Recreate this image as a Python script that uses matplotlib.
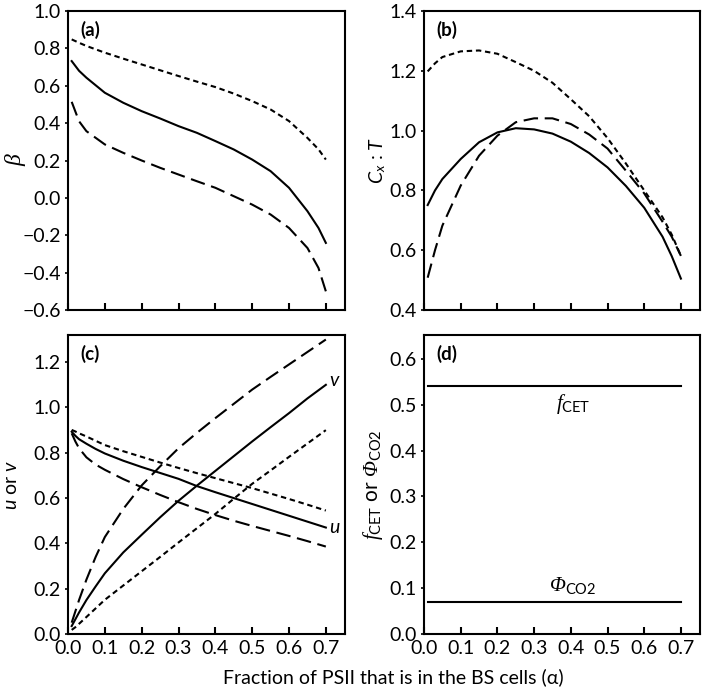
import matplotlib
matplotlib.use("Agg")
import matplotlib.pyplot as plt

plt.rcParams['font.family'] = ['Lato', 'DejaVu Sans']
plt.rcParams['mathtext.fontset'] = 'custom'
plt.rcParams['mathtext.rm'] = 'Lato'
plt.rcParams['mathtext.it'] = 'Liberation Serif:italic'
plt.rcParams['mathtext.cal'] = 'Liberation Serif:italic'
plt.rcParams['mathtext.sf'] = 'Lato:italic'
plt.rcParams['mathtext.bf'] = 'Lato:bold'

# ---- data ----
xa = [0.01, 0.03, 0.05, 0.1, 0.15, 0.2, 0.25, 0.3, 0.35, 0.4, 0.45, 0.5, 0.55, 0.6, 0.65, 0.68, 0.7]
beta_short = [0.848, 0.83, 0.813, 0.777, 0.745, 0.714, 0.683, 0.652, 0.622, 0.593, 0.558, 0.518, 0.473, 0.411, 0.321, 0.26, 0.205]
beta_solid = [0.732, 0.68, 0.643, 0.5625, 0.509, 0.464, 0.425, 0.384, 0.348, 0.304, 0.259, 0.205, 0.143, 0.054, -0.071, -0.161, -0.241]
beta_long = [0.514, 0.41, 0.357, 0.286, 0.241, 0.2, 0.161, 0.125, 0.089, 0.054, 0.009, -0.036, -0.089, -0.161, -0.268, -0.375, -0.5]

xb = [0.01, 0.03, 0.05, 0.1, 0.15, 0.2, 0.25, 0.3, 0.35, 0.4, 0.45, 0.5, 0.55, 0.6, 0.65, 0.675, 0.7]
cxt_short = [1.198, 1.225, 1.246, 1.265, 1.268, 1.257, 1.229, 1.20, 1.160, 1.105, 1.048, 0.975, 0.89, 0.80, 0.71, 0.652, 0.581]
cxt_solid = [0.751, 0.80, 0.838, 0.905, 0.961, 0.994, 1.008, 1.004, 0.99, 0.963, 0.925, 0.877, 0.815, 0.742, 0.645, 0.58, 0.505]
cxt_long = [0.508, 0.60, 0.682, 0.816, 0.916, 0.983, 1.028, 1.041, 1.041, 1.022, 0.987, 0.94, 0.866, 0.79, 0.695, 0.645, 0.581]

xc = [0.01, 0.02, 0.03, 0.05, 0.075, 0.1, 0.15, 0.2, 0.25, 0.3, 0.35, 0.4, 0.45, 0.5, 0.55, 0.6, 0.65, 0.7]
v_long = [0.05, 0.10, 0.15, 0.24, 0.34, 0.428, 0.552, 0.656, 0.74, 0.82, 0.888, 0.953, 1.016, 1.079, 1.135, 1.19, 1.245, 1.30]
v_solid = [0.035, 0.065, 0.095, 0.15, 0.21, 0.268, 0.36, 0.438, 0.515, 0.588, 0.655, 0.72, 0.785, 0.85, 0.913, 0.975, 1.04, 1.10]
v_short = [0.018, 0.03, 0.045, 0.075, 0.113, 0.151, 0.214, 0.277, 0.34, 0.404, 0.467, 0.53, 0.597, 0.663, 0.722, 0.782, 0.841, 0.90]
u_short = [0.901, 0.894, 0.886, 0.872, 0.853, 0.834, 0.807, 0.782, 0.757, 0.733, 0.710, 0.688, 0.666, 0.644, 0.620, 0.596, 0.571, 0.545]
u_solid = [0.893, 0.875, 0.86, 0.84, 0.817, 0.797, 0.765, 0.737, 0.711, 0.685, 0.653, 0.626, 0.600, 0.574, 0.548, 0.522, 0.496, 0.47]
u_long = [0.886, 0.85, 0.82, 0.78, 0.748, 0.725, 0.684, 0.648, 0.614, 0.582, 0.552, 0.525, 0.50, 0.477, 0.455, 0.433, 0.41, 0.386]

xd = [0.01, 0.7]
f_cet = [0.54, 0.54]
phi_co2 = [0.07, 0.07]

xticks = [0.0, 0.1, 0.2, 0.3, 0.4, 0.5, 0.6, 0.7]

LW = 1.5
SOLID = dict(color='black', lw=LW, linestyle='-')
SHORT = dict(color='black', lw=LW, dashes=(2.6, 1.8))
LONG = dict(color='black', lw=LW, dashes=(7, 3.2))
FS = 14

fig = plt.figure(figsize=(7.09, 6.87), dpi=100)
W, H = 709, 687


def mk(l, t, r, b):
    return fig.add_axes([l / W, 1 - b / H, (r - l) / W, (b - t) / H])


axa = mk(68, 11, 345, 310)
axb = mk(424, 11, 700, 310)
axc = mk(68, 335, 345, 634)
axd = mk(424, 335, 700, 634)

for ax in (axa, axb, axc, axd):
    ax.set_xlim(0, 0.752)
    ax.set_xticks(xticks)
    for s in ax.spines.values():
        s.set_linewidth(1.5)
    ax.tick_params(axis='x', direction='in', length=5, width=1.5, labelsize=FS, pad=4)
    ax.tick_params(axis='y', direction='out', length=2.5, width=1.2, labelsize=FS, pad=2.5)
    ax.yaxis.set_major_formatter(matplotlib.ticker.FormatStrFormatter('%.1f'))

for ax in (axc, axd):
    ax.xaxis.set_major_formatter(matplotlib.ticker.FormatStrFormatter('%.1f'))
for ax in (axa, axb):
    ax.tick_params(axis='x', labelbottom=False)

# (a)
axa.plot(xa, beta_short, **SHORT)
axa.plot(xa, beta_solid, **SOLID)
axa.plot(xa, beta_long, **LONG)
axa.set_ylim(-0.6, 1.0)
axa.set_yticks([-0.6, -0.4, -0.2, 0.0, 0.2, 0.4, 0.6, 0.8, 1.0])
axa.set_yticklabels(['\u22120.6', '\u22120.4', '\u22120.2', '0.0', '0.2', '0.4', '0.6', '0.8', '1.0'])
axa.set_ylabel('\u03b2', fontsize=17, family='Liberation Serif', style='italic')
axa.yaxis.set_label_coords((26 - 68) / 277, 0.5)

# (b)
axb.plot(xb, cxt_short, **SHORT)
axb.plot(xb, cxt_solid, **SOLID)
axb.plot(xb, cxt_long, **LONG)
axb.set_ylim(0.4, 1.4)
axb.set_yticks([0.4, 0.6, 0.8, 1.0, 1.2, 1.4])
axb.set_ylabel(r'$\mathsf{C}_{\mathsf{x}}$ : $\mathsf{T}$', fontsize=FS)
axb.yaxis.set_label_coords((388 - 424) / 276, 0.5)

# (c)
axc.plot(xc, v_long, **LONG)
axc.plot(xc, v_solid, **SOLID)
axc.plot(xc, v_short, **SHORT)
axc.plot(xc, u_short, **SHORT)
axc.plot(xc, u_solid, **SOLID)
axc.plot(xc, u_long, **LONG)
axc.set_ylim(0, 1.32)
axc.set_yticks([0.0, 0.2, 0.4, 0.6, 0.8, 1.0, 1.2])
axc.set_ylabel(r'$\mathsf{u}$ or $\mathsf{v}$', fontsize=FS)
axc.yaxis.set_label_coords((20 - 68) / 277, 0.5)
axc.text(0.708, 1.12, r'$\mathsf{v}$', fontsize=FS, ha='left', va='center')
axc.text(0.708, 0.47, r'$\mathsf{u}$', fontsize=FS, ha='left', va='center')

# (d)
axd.plot(xd, f_cet, **SOLID)
axd.plot(xd, phi_co2, **SOLID)
axd.set_ylim(0, 0.652)
axd.set_yticks([0.0, 0.1, 0.2, 0.3, 0.4, 0.5, 0.6])
axd.set_ylabel(r'$f_{\mathrm{CET}}$ or $\mathcal{Φ}_{\mathrm{CO2}}$', fontsize=15)
axd.yaxis.set_label_coords((385 - 424) / 276, 0.5)
axd.text(0.408, 0.527, r'$f_{\mathrm{CET}}$', fontsize=15, ha='center', va='top')
axd.text(0.405, 0.082, r'$\mathcal{Φ}_{\mathrm{CO2}}$', fontsize=15, ha='center', va='bottom')

for ax, lab in zip((axa, axb, axc, axd), ('(a)', '(b)', '(c)', '(d)')):
    ax.text(0.045, 0.935, lab, transform=ax.transAxes, fontsize=13.5, fontweight='bold',
            ha='left', va='center')

fig.text(393 / W, 1 - 677 / H, 'Fraction of PSII that is in the BS cells (\u03b1)',
         ha='center', va='center', fontsize=14)

fig.savefig('out.png', dpi=100)
